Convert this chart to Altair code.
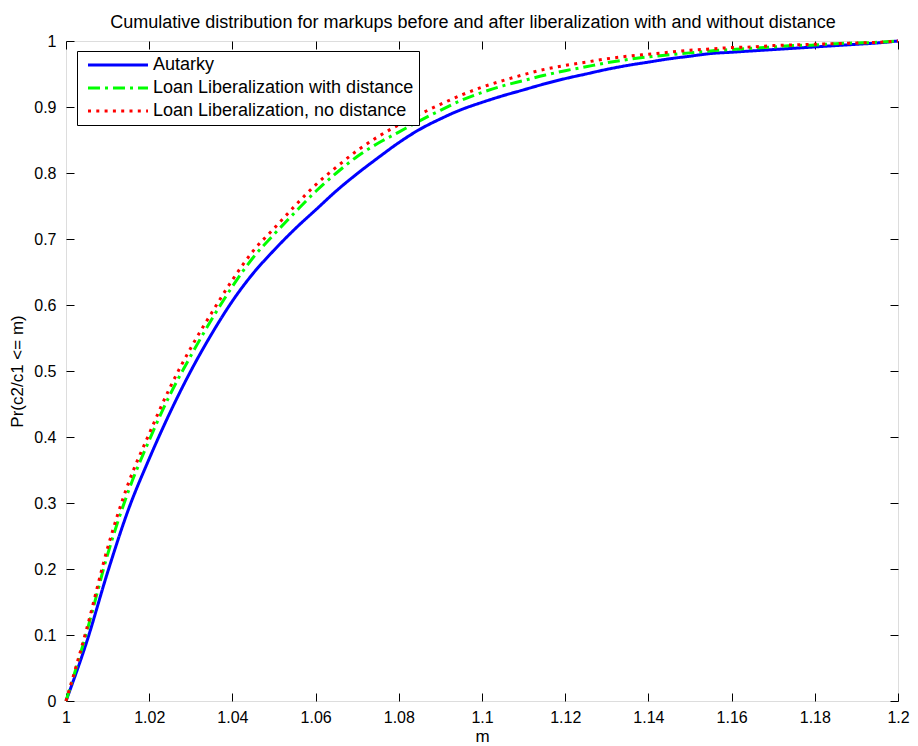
import altair as alt
import pandas as pd

# ---- data ----
m_values = [1.000, 1.005, 1.010, 1.015, 1.020, 1.025, 1.030, 1.035, 1.040, 1.045,
            1.050, 1.055, 1.060, 1.065, 1.070, 1.075, 1.080, 1.085, 1.090, 1.095,
            1.100, 1.105, 1.110, 1.115, 1.120, 1.125, 1.130, 1.135, 1.140, 1.145,
            1.150, 1.155, 1.160, 1.165, 1.170, 1.175, 1.180, 1.185, 1.190, 1.195,
            1.200]

autarky = [0.000, 0.090, 0.195, 0.290, 0.367, 0.437, 0.500, 0.556, 0.606, 0.648,
           0.683, 0.715, 0.744, 0.773, 0.799, 0.823, 0.846, 0.866, 0.882, 0.896,
           0.907, 0.917, 0.926, 0.935, 0.943, 0.950, 0.957, 0.963, 0.968, 0.973,
           0.977, 0.981, 0.983, 0.985, 0.987, 0.989, 0.991, 0.993, 0.995, 0.997,
           1.000]

with_distance = [0.000, 0.105, 0.222, 0.318, 0.395, 0.464, 0.523, 0.578, 0.628, 0.672,
                 0.707, 0.740, 0.772, 0.800, 0.825, 0.845, 0.862, 0.879, 0.895, 0.910,
                 0.922, 0.932, 0.940, 0.948, 0.955, 0.961, 0.967, 0.972, 0.976, 0.979,
                 0.982, 0.985, 0.987, 0.989, 0.991, 0.993, 0.994, 0.996, 0.997, 0.998,
                 1.000]

no_distance = [0.000, 0.110, 0.232, 0.330, 0.405, 0.475, 0.535, 0.588, 0.638, 0.682,
               0.716, 0.750, 0.782, 0.809, 0.834, 0.855, 0.873, 0.889, 0.904, 0.918,
               0.930, 0.940, 0.949, 0.957, 0.963, 0.968, 0.973, 0.977, 0.980, 0.983,
               0.986, 0.988, 0.990, 0.991, 0.993, 0.994, 0.995, 0.996, 0.997, 0.998,
               1.000]

series_names = ["Autarky", "Loan Liberalization with distance",
                "Loan Liberalization, no distance"]
series_colors = ["#0000ff", "#00ff00", "#ff0000"]
series_dashes = [[1, 0], [12, 5, 3, 5], [3, 5.3]]

x_ticks = [1.00, 1.02, 1.04, 1.06, 1.08, 1.10, 1.12, 1.14, 1.16, 1.18, 1.20]
y_ticks = [0, 0.1, 0.2, 0.3, 0.4, 0.5, 0.6, 0.7, 0.8, 0.9, 1.0]

title_text = ("Cumulative distribution for markups before and after "
              "liberalization with and without distance")

rows = []
for name, ys in zip(series_names, [autarky, with_distance, no_distance]):
    for order, (mx, my) in enumerate(zip(m_values, ys)):
        rows.append({"m": mx, "p": my, "series": name, "order": order})
df = pd.DataFrame(rows)

FONT = "Liberation Sans"

x_scale = alt.Scale(domain=[1.0, 1.2], nice=False, zero=False)
y_scale = alt.Scale(domain=[0, 1], nice=False, zero=False)

common_axis = dict(offset=-8, tickSize=8, domain=False, grid=False,
                   tickColor="black", tickWidth=1, labelFlush=False,
                   labelOverlap=False)

lines = alt.Chart(df).mark_line(strokeWidth=3, interpolate="monotone").encode(
    x=alt.X("m:Q", scale=x_scale,
            axis=alt.Axis(orient="bottom", values=x_ticks, format=".2~f",
                          labelPadding=8, title="m", titlePadding=3,
                          labelFontSize=16, titleFontSize=17,
                          titleFontWeight="normal", **common_axis)),
    y=alt.Y("p:Q", scale=y_scale,
            axis=alt.Axis(orient="left", values=y_ticks, format=".1~f",
                          labelPadding=10, title="Pr(c2/c1 <= m)",
                          titlePadding=7, labelFontSize=16, titleFontSize=17,
                          titleFontWeight="normal", **common_axis)),
    color=alt.Color("series:N",
                    scale=alt.Scale(domain=series_names, range=series_colors),
                    legend=alt.Legend(title=None, orient="none", legendX=11,
                                      legendY=10, symbolType="M-5,0L5,0",
                                      symbolSize=144, symbolStrokeWidth=3,
                                      symbolOffset=27, labelOffset=26,
                                      labelFontSize=18, labelFont=FONT,
                                      labelColor="black", labelLimit=0,
                                      fillColor="white", strokeColor="black",
                                      padding=5, rowPadding=5)),
    strokeDash=alt.StrokeDash("series:N",
                              scale=alt.Scale(domain=series_names,
                                              range=series_dashes),
                              legend=None),
    order="order:Q",
)

frame = alt.Chart(df).mark_line(opacity=0).encode(
    x=alt.X("m:Q", scale=x_scale,
            axis=alt.Axis(orient="top", values=x_ticks, labels=False, title=None,
                          **common_axis)),
    y=alt.Y("p:Q", scale=y_scale,
            axis=alt.Axis(orient="right", values=y_ticks, labels=False,
                          title=None, **common_axis)),
    detail="series:N",
)

chart = alt.layer(lines, frame).resolve_axis(
    x="independent", y="independent"
).properties(
    width=832, height=660,
    autosize=alt.AutoSizeParams(type="none"),
    padding={"left": 58, "top": 33, "right": 12, "bottom": 45},
    title=alt.Title(title_text, fontSize=18, font=FONT, fontWeight="normal",
                    color="black", anchor="middle", offset=2, frame="group",
                    baseline="alphabetic", dy=15, dx=-9),
).configure_view(
    stroke="black", strokeWidth=1
).configure_axis(
    labelFont=FONT, titleFont=FONT, labelColor="black", titleColor="black"
).configure(background="white")

chart.save("out.html", embed_options={"renderer": "svg", "actions": False})
